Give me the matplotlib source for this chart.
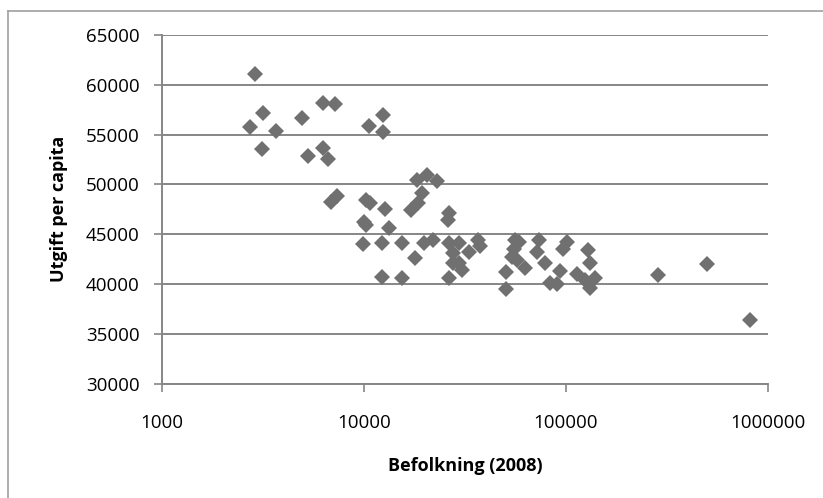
import matplotlib
matplotlib.use("Agg")
import matplotlib.pyplot as plt
from matplotlib.lines import Line2D

# Population (2008) and expenditure per capita
befolkning = [
    2900, 3160, 2720, 3680, 3140, 4930, 5290, 6310, 7210, 6270,
    6640, 6890, 7390, 10620, 12500, 12500, 10300, 10700, 10000, 10200,
    9950, 12700, 13400, 12250, 12250, 15400, 15400, 17900, 17100, 18600,
    19400, 18300, 20500, 23000, 19900, 22000, 26300, 26000, 26300, 26300,
    27500, 27500, 29700, 29700, 30700, 33100, 36700, 37700, 50800, 50400,
    55700, 58400, 55100, 54100, 57400, 62900, 73800, 71700, 79000, 83000,
    90000, 101500, 96600, 93700, 113500, 125000, 128900, 131900, 139600, 132000,
    287000, 499000, 811000,
]
utgift = [
    61100, 57200, 55800, 55400, 53500, 56700, 52800, 58200, 58100, 53600,
    52500, 48250, 48800, 55850, 56950, 55300, 48400, 48100, 46200, 45900,
    44050, 47550, 45650, 44100, 40700, 44100, 40550, 42650, 47400, 48100,
    49100, 50400, 50900, 50350, 44100, 44400, 47100, 46400, 44100, 40550,
    43100, 42100, 44100, 42100, 41400, 43250, 44400, 43800, 41200, 39450,
    44400, 44200, 43550, 42700, 42400, 41600, 44400, 43250, 42100, 40050,
    39950, 44250, 43550, 41250, 41000, 40350, 43400, 42100, 40550, 39550,
    40900, 41950, 36350,
]

y_ticks = [30000, 35000, 40000, 45000, 50000, 55000, 60000, 65000]
x_ticks = [1000, 10000, 100000, 1000000]
x_ticklabels = ["1000", "10000", "100000", "1000000"]
x_label = "Befolkning (2008)"
y_label = "Utgift per capita"

W, H = 823, 498
fig = plt.figure(figsize=(W / 100, H / 100), dpi=100)
fig.patch.set_facecolor("white")

left, right = 161.7 / W, 768 / W
top, bottom = 1 - 34.9 / H, 1 - 383.5 / H
ax = fig.add_axes([left, bottom, right - left, top - bottom])

axis_col = "#868686"
ax.set_xscale("log")
ax.set_xlim(1000, 1000000)
ax.set_ylim(30000, 65000)
ax.set_yticks(y_ticks)
ax.set_xticks(x_ticks)
ax.set_xticklabels(x_ticklabels)
ax.minorticks_off()

ax.grid(axis="y", color=axis_col, linewidth=1.4, zorder=0)
ax.set_axisbelow(True)

ax.plot(befolkning, utgift, linestyle="none", marker="D", markersize=8.4,
        color="#707070", markeredgewidth=0, zorder=3, clip_on=False)

for s in ["top", "right"]:
    ax.spines[s].set_visible(False)
for s in ["left", "bottom"]:
    ax.spines[s].set_color(axis_col)
    ax.spines[s].set_linewidth(1.4)

font = ["Open Sans", "DejaVu Sans"]
ax.tick_params(axis="both", direction="out", length=6, width=1.2,
               color=axis_col, labelcolor="black", labelsize=13.5)
ax.tick_params(axis="y", pad=10)
ax.tick_params(axis="x", pad=16)
for lab in ax.get_xticklabels() + ax.get_yticklabels():
    lab.set_family(font)

ax.set_xlabel(x_label, fontsize=13, fontweight="bold", family=font, labelpad=18)
ax.set_ylabel(y_label, fontsize=13, fontweight="bold", family=font, labelpad=13)

# chart-area border
fig.add_artist(Line2D([8 / W, 8 / W], [1 - 11 / H, 0], transform=fig.transFigure,
                      color="#a0a0a0", linewidth=1.2))
fig.add_artist(Line2D([8 / W, 1], [1 - 11 / H, 1 - 11 / H], transform=fig.transFigure,
                      color="#a0a0a0", linewidth=1.2))

fig.savefig("out.png", dpi=100, facecolor="white")
